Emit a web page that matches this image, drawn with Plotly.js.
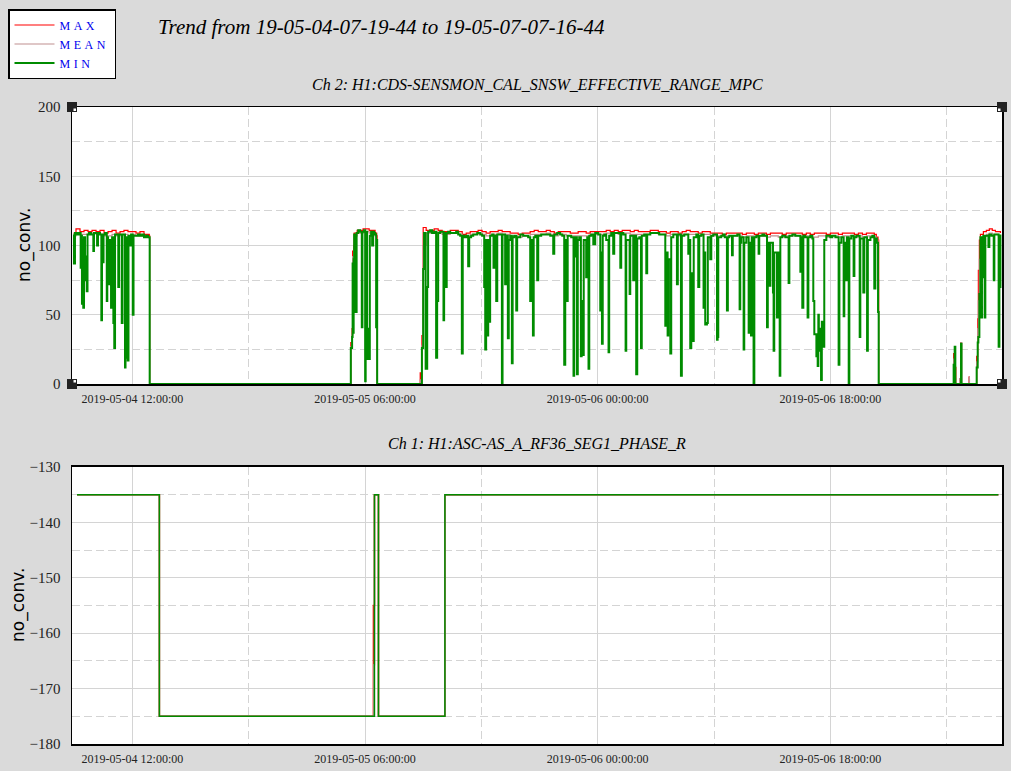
<!DOCTYPE html>
<html>
<head>
<meta charset="utf-8">
<script src="https://cdn.plot.ly/plotly-3.0.1.min.js"></script>
<style>
html,body{margin:0;padding:0;background:#dadada;}
#chart{width:1011px;height:771px;}
.legendtext{letter-spacing:3.5px;}
</style>
</head>
<body>
<div id="chart"></div>
<script>
// ---------------- DATA ----------------
const trendTitle = 'Trend from 19-05-04-07-19-44 to 19-05-07-07-16-44';
const startTime = '2019-05-04 07:19:44';
const endTime = '2019-05-07 07:16:44';
const ch2Title = 'Ch 2: H1:CDS-SENSMON_CAL_SNSW_EFFECTIVE_RANGE_MPC';
const ch1Title = 'Ch 1: H1:ASC-AS_A_RF36_SEG1_PHASE_R';
const yTitle = 'no_conv.';
const seriesNames = ['MAX', 'MEAN', 'MIN'];
const seriesColors = ['#ff0000', '#c09090', '#008c00'];
const xTickStart = '2019-05-04 12:00:00';
const xTickStepHours = 18;

// Ch 2: [hours after start, MAX, MEAN]
const ch2MaxMean = [
[0.12,109,107],[0.31,112,109],[0.62,110,108],[0.93,111,108],[1.24,110,108],[1.55,111,109],[1.86,110,108],[2.17,111,108],[2.48,109,107],[2.79,110,107],[3.10,111,108],[3.41,109,107],[3.72,110,108],[4.02,111,108],[4.33,110,107],[4.64,110,108],[4.95,109,107],[5.26,110,107],[5.57,108,106],[5.88,108,106],[5.98,107,105],[6.01,0,0],[21.56,0,0],
[21.57,30,27],[21.67,40,36],[21.71,96,92],[21.79,100,96],[21.83,109,107],[22.06,111,109],[22.29,111,109],[22.52,112,110],[22.76,112,110],[22.99,111,109],[23.22,111,109],[23.45,109,107],[23.57,107,80],[23.61,0,0],[26.90,0,0],[26.94,8,3],[26.97,2,0],[27.07,35,28],[27.17,113,100],
[27.40,111,109],[27.71,111,109],[28.02,112,110],[28.33,111,109],[28.64,110,108],[28.95,110,108],[29.26,111,109],[29.57,111,109],[29.88,110,108],[30.19,108,106],[30.50,109,107],[30.81,110,108],[31.11,110,108],[31.42,111,109],[31.73,110,108],[32.04,109,107],[32.35,110,108],[32.66,110,108],[32.97,111,109],[33.28,110,108],[33.59,110,108],[33.90,109,107],[34.21,109,107],[34.52,108,106],[34.83,109,107],[35.14,109,107],[35.45,110,108],[35.76,111,108],[36.07,110,108],[36.38,110,108],[36.69,111,109],[37.00,110,108],[37.31,109,107],[37.62,110,108],[37.93,110,108],[38.24,110,107],[38.55,109,107],[38.85,109,107],[39.16,110,107],[39.47,110,107],[39.78,109,107],[40.09,110,108],[40.40,110,108],[40.71,110,108],[41.02,110,108],[41.33,111,109],[41.64,110,108],[41.95,111,109],[42.26,110,108],[42.57,111,109],[42.88,111,109],[43.19,110,108],[43.50,111,108],[43.81,110,108],[44.12,110,108],[44.43,110,108],[44.74,111,109],[45.05,111,109],[45.36,110,108],[45.67,110,108],[45.98,109,107],[46.29,110,108],[46.59,110,108],[46.90,109,107],[47.21,110,108],[47.52,111,108],[47.83,110,108],[48.14,110,108],[48.45,109,107],[48.76,110,108],[49.07,110,108],[49.38,109,107],[49.69,109,107],[50.00,109,107],[50.31,108,107],[50.62,109,107],[50.93,109,107],[51.24,109,107],[51.55,109,107],[51.86,108,106],[52.17,109,107],[52.48,109,107],[52.79,108,106],[53.10,109,107],[53.41,109,107],[53.72,108,106],[54.03,109,107],[54.33,109,107],[54.64,109,106],[54.95,108,106],[55.26,109,107],[55.57,109,107],[55.88,109,107],[56.19,109,107],[56.50,108,106],[56.81,109,107],[57.12,108,106],[57.43,109,106],[57.74,109,107],[58.05,109,107],[58.36,108,106],[58.67,109,107],[58.98,109,107],[59.29,108,106],[59.60,109,107],[59.91,109,107],[60.22,109,107],[60.53,108,106],[60.84,109,107],[61.15,108,106],[61.46,109,107],[61.77,109,107],[62.07,108,106],[62.23,106,104],[62.36,104,75],[62.41,0,0],
[68.15,0,0],[68.21,22,18],[68.29,27,27],[68.34,12,4],[68.38,0,0],[68.65,0,0],[68.67,4,4],[68.70,0,0],[68.74,0,0],[68.78,30,30],[68.82,0,0],[69.37,0,0],[69.40,5,5],[69.43,0,0],[69.97,0,0],[69.99,20,16],[70.07,47,40],[70.12,82,60],[70.20,104,90],[70.28,108,106],[70.51,110,107],[70.74,111,108],[70.97,112,109],[71.20,111,108],[71.44,110,108],[71.67,110,107],[71.83,109,107]
];

// Ch 2: [hours after start, MIN]
const ch2Min = [
[0.12,108],[0.15,87],[0.23,109],[0.39,108],[0.54,109],[0.67,84],[0.74,107],[0.77,58],[0.83,104],[0.87,55],[0.93,106],[1.01,75],[1.06,92],[1.14,67],[1.20,108],[1.32,109],[1.47,108],[1.65,96],[1.70,109],[1.94,100],[2.01,109],[2.17,108],[2.27,46],[2.32,108],[2.38,88],[2.44,108],[2.55,109],[2.69,60],[2.73,106],[2.79,85],[2.86,72],[2.94,104],[3.02,55],[3.10,106],[3.20,44],[3.27,26],[3.33,108],[3.48,108],[3.58,70],[3.64,108],[3.85,44],[3.91,108],[4.02,108],[4.10,12],[4.14,104],[4.18,19],[4.24,106],[4.31,17],[4.37,107],[4.49,100],[4.57,108],[4.70,50],[4.76,107],[4.95,107],[5.11,108],[5.26,107],[5.42,108],[5.57,106],[5.73,107],[5.88,106],[5.98,106],[6.01,0],[21.56,0],
[21.57,26],[21.67,34],[21.71,87],[21.75,37],[21.79,90],[21.83,108],[21.90,52],[21.96,52],[22.02,109],[22.14,111],[22.29,110],[22.42,41],[22.47,110],[22.60,111],[22.68,2],[22.72,110],[22.83,18],[22.91,40],[22.99,18],[23.04,107],[23.14,110],[23.22,100],[23.30,110],[23.37,109],[23.45,108],[23.53,41],[23.58,104],[23.61,0],[26.94,0],
[27.07,26],[27.17,83],[27.24,109],[27.36,11],[27.48,70],[27.55,110],[27.71,111],[27.86,109],[28.02,110],[28.17,19],[28.25,60],[28.33,109],[28.48,110],[28.74,46],[28.79,109],[28.92,70],[28.99,109],[29.10,110],[29.26,109],[29.49,109],[29.72,110],[29.88,108],[30.03,107],[30.16,22],[30.23,107],[30.34,106],[30.50,107],[30.65,85],[30.73,106],[30.88,107],[31.04,108],[31.19,108],[31.35,109],[31.58,108],[31.73,107],[31.89,70],[31.97,25],[32.04,104],[32.14,35],[32.20,104],[32.30,45],[32.35,107],[32.51,108],[32.61,84],[32.74,107],[32.82,60],[32.90,108],[33.05,108],[33.26,0],[33.31,108],[33.51,72],[33.59,107],[33.72,33],[33.79,104],[33.90,107],[34.03,15],[34.09,106],[34.21,107],[34.37,53],[34.44,106],[34.68,108],[34.91,107],[35.14,107],[35.29,106],[35.45,60],[35.53,104],[35.66,35],[35.72,106],[35.84,107],[35.99,75],[36.07,107],[36.30,108],[36.53,108],[36.77,108],[37.00,107],[37.23,94],[37.31,108],[37.54,109],[37.77,108],[37.93,107],[38.08,14],[38.16,104],[38.29,60],[38.35,107],[38.47,107],[38.62,106],[38.80,6],[38.85,92],[38.93,106],[39.06,7],[39.13,104],[39.24,106],[39.37,20],[39.43,60],[39.53,21],[39.59,104],[39.78,77],[39.86,106],[39.96,11],[40.02,107],[40.17,108],[40.33,101],[40.48,109],[40.64,109],[40.71,108],[40.87,53],[40.93,95],[41.00,29],[41.06,107],[41.18,108],[41.33,104],[41.51,23],[41.56,107],[41.72,109],[41.87,94],[41.95,109],[42.18,109],[42.42,84],[42.49,109],[42.65,108],[42.83,24],[42.88,104],[43.14,65],[43.19,107],[43.42,75],[43.50,107],[43.65,7],[43.73,105],[43.89,106],[44.02,26],[44.08,107],[44.27,108],[44.43,80],[44.50,108],[44.74,109],[44.97,109],[45.20,109],[45.43,108],[45.67,108],[45.90,42],[45.98,95],[46.08,35],[46.13,90],[46.29,22],[46.36,106],[46.52,108],[46.80,72],[46.87,108],[47.11,6],[47.18,107],[47.37,108],[47.68,94],[47.76,104],[47.83,26],[47.91,80],[48.04,31],[48.10,106],[48.30,108],[48.45,70],[48.53,107],[48.68,108],[48.86,55],[48.92,95],[48.99,43],[49.12,44],[49.19,106],[49.38,90],[49.46,107],[49.61,108],[49.90,32],[49.95,34],[50.00,106],[50.23,107],[50.39,108],[50.50,106],[50.67,53],[50.74,106],[50.85,107],[51.06,93],[51.12,107],[51.32,107],[51.47,108],[51.65,54],[51.70,102],[51.78,106],[51.96,25],[52.01,102],[52.17,106],[52.35,37],[52.40,102],[52.53,35],[52.59,106],[52.73,0],[52.79,106],[52.94,107],[53.12,94],[53.17,107],[53.41,108],[53.56,107],[53.77,41],[53.83,102],[53.97,71],[54.03,102],[54.23,66],[54.28,24],[54.33,95],[54.54,48],[54.61,95],[54.75,6],[54.80,106],[54.95,107],[55.19,106],[55.44,73],[55.50,107],[55.73,108],[55.96,107],[56.35,81],[56.43,106],[56.50,55],[56.58,107],[56.73,106],[56.91,48],[56.97,106],[57.12,107],[57.28,105],[57.35,60],[57.43,36],[57.51,36],[57.59,20],[57.69,13],[57.74,50],[57.78,24],[57.82,40],[57.95,3],[58.01,45],[58.15,27],[58.20,104],[58.36,107],[58.51,107],[58.67,106],[58.82,107],[59.06,106],[59.31,14],[59.37,102],[59.52,106],[59.70,49],[59.75,102],[59.88,75],[59.95,106],[60.09,0],[60.14,105],[60.29,107],[60.47,78],[60.53,106],[60.68,107],[60.94,34],[60.99,105],[61.22,66],[61.30,106],[61.51,24],[61.57,104],[61.77,106],[61.92,107],[62.07,69],[62.15,105],[62.27,102],[62.36,52],[62.41,0],
[68.15,0],[68.21,14],[68.29,27],[68.34,0],[68.74,0],[68.78,29],[68.82,0],[69.97,0],[69.99,12],[70.07,30],[70.12,34],[70.20,65],[70.28,106],[70.33,48],[70.40,106],[70.46,77],[70.51,107],[70.61,48],[70.66,107],[70.90,99],[70.97,108],[71.13,107],[71.31,75],[71.36,108],[71.52,108],[71.69,27],[71.75,70],[71.83,108]
];

// Ch 1 (step data): [hours after start, value]
const ch1Max  = [[0.39,-135],[6.76,-175],[23.32,-155],[23.40,-135],[23.71,-175],[28.85,-135],[71.67,-135]];
const ch1Mean = [[0.39,-135],[6.76,-175],[23.34,-165.7],[23.40,-135],[23.71,-175],[28.85,-135],[71.67,-135]];
const ch1MinS = [[0.39,-135],[6.76,-175],[23.40,-135],[23.71,-175],[28.85,-135],[71.67,-135]];

// ---------------- BUILD ----------------
const startMs = new Date(startTime.replace(' ', 'T') + 'Z').getTime();
function toDate(h) {
  return new Date(startMs + Math.round(h * 3600000)).toISOString().slice(0, 19).replace('T', ' ');
}
function line(samples, col, name, xa, ya, width, showleg) {
  return {
    type: 'scatter', mode: 'lines',
    x: samples.map(p => toDate(p[0])),
    y: samples.map(p => p[col]),
    name: name, xaxis: xa, yaxis: ya,
    line: {color: seriesColors[seriesNames.indexOf(name)], width: width, shape: 'hv'},
    showlegend: showleg, hoverinfo: 'skip'
  };
}
const traces = [
  line(ch2MaxMean, 1, 'MAX', 'x', 'y', 1.2, true),
  line(ch2MaxMean, 2, 'MEAN', 'x', 'y', 1.2, true),
  line(ch2Min, 1, 'MIN', 'x', 'y', 2, true),
  line(ch1Max, 1, 'MAX', 'x2', 'y2', 1.5, false),
  line(ch1Mean, 1, 'MEAN', 'x2', 'y2', 1.5, false),
  line(ch1MinS, 1, 'MIN', 'x2', 'y2', 1.5, false)
];

const gridCol = '#d4d4d4';
const serif = 'Liberation Serif, Times New Roman, serif';
function xAxis(anchor) {
  return {
    type: 'date', anchor: anchor, range: [startTime, endTime],
    tick0: xTickStart, dtick: xTickStepHours * 3600000, tickformat: '%Y-%m-%d %H:%M:%S',
    ticks: '', showgrid: true, gridcolor: gridCol, gridwidth: 1,
    minor: {tick0: xTickStart, dtick: xTickStepHours / 2 * 3600000, showgrid: true, gridcolor: gridCol, griddash: '8px,4px', gridwidth: 1},
    showline: true, mirror: true, linecolor: '#000', linewidth: 1.5, zeroline: false,
    tickfont: {family: serif, size: 12, color: '#222'}, ticklabelstandoff: 3
  };
}
function yAxis(domain, range, dtick) {
  return {
    domain: domain, range: range, tick0: range[0], dtick: dtick,
    ticks: '', showgrid: true, gridcolor: gridCol, gridwidth: 1,
    minor: {dtick: dtick / 2, showgrid: true, gridcolor: gridCol, griddash: '8px,4px', gridwidth: 1},
    showline: true, mirror: true, linecolor: '#000', linewidth: 1.5, zeroline: false,
    tickfont: {family: serif, size: 15, color: '#222'}, ticklabelstandoff: 7
  };
}
const yDomTop = [0.5651, 1];
const yDomBot = [0, 0.4349];
function corner(xa, ya) {
  const dx = xa === 0 ? 1 : -1, dy = ya === yDomTop[1] ? -1 : 1;
  return [
    {type: 'rect', xref: 'paper', yref: 'paper', xsizemode: 'pixel', ysizemode: 'pixel', xanchor: xa, yanchor: ya,
     x0: -5, x1: 5, y0: -5, y1: 5, fillcolor: '#222', line: {width: 0}, layer: 'above'},
    {type: 'rect', xref: 'paper', yref: 'paper', xsizemode: 'pixel', ysizemode: 'pixel', xanchor: xa, yanchor: ya,
     x0: dx * 1.5, x1: dx * 4, y0: dy * 1.5, y1: dy * 4, fillcolor: '#fff', line: {width: 0}, layer: 'above'}
  ];
}
const shapes = [].concat(corner(0, 1), corner(1, 1), corner(0, yDomTop[0]), corner(1, yDomTop[0]));

const subFont = {family: serif, size: 16, style: 'italic', color: '#000'};
const yTitleFont = {family: 'DejaVu Sans, sans-serif', size: 17, color: '#000'};
const layout = {
  width: 1011, height: 771,
  paper_bgcolor: '#dadada', plot_bgcolor: '#ffffff',
  margin: {l: 72, r: 9, t: 107, b: 27, autoexpand: false},
  title: {text: trendTitle, font: {family: serif, size: 21, style: 'italic', color: '#000'},
          xref: 'container', yref: 'container', x: 158 / 1011, xanchor: 'left', y: 1 - 27 / 771, yanchor: 'middle'},
  showlegend: true,
  legend: {xref: 'container', yref: 'container', x: 8 / 1011, y: 1 - 9 / 771, xanchor: 'left', yanchor: 'top',
           bgcolor: '#ffffff', bordercolor: '#000', borderwidth: 1.5, itemwidth: 40, tracegroupgap: 0,
           font: {family: serif, size: 12, color: '#0000ee'}},
  xaxis: xAxis('y'), xaxis2: xAxis('y2'),
  yaxis: yAxis(yDomTop, [0, 200], 50),
  yaxis2: yAxis(yDomBot, [-180, -130], 10),
  annotations: [
    {text: ch2Title, xref: 'paper', yref: 'paper', x: 0.5, y: (771 - 27 - 84) / 637, xanchor: 'center', yanchor: 'middle', showarrow: false, font: subFont},
    {text: ch1Title, xref: 'paper', yref: 'paper', x: 0.5, y: (771 - 27 - 443) / 637, xanchor: 'center', yanchor: 'middle', showarrow: false, font: subFont},
    {text: yTitle, textangle: -90, xref: 'paper', yref: 'paper', x: (25 - 72) / 930, y: (744 - 245) / 637, xanchor: 'center', yanchor: 'middle', showarrow: false, font: yTitleFont},
    {text: yTitle, textangle: -90, xref: 'paper', yref: 'paper', x: (18 - 72) / 930, y: (744 - 605) / 637, xanchor: 'center', yanchor: 'middle', showarrow: false, font: yTitleFont}
  ],
  shapes: shapes,
  hovermode: false
};
Plotly.newPlot('chart', traces, layout, {displayModeBar: false, staticPlot: true});
</script>
</body>
</html>
